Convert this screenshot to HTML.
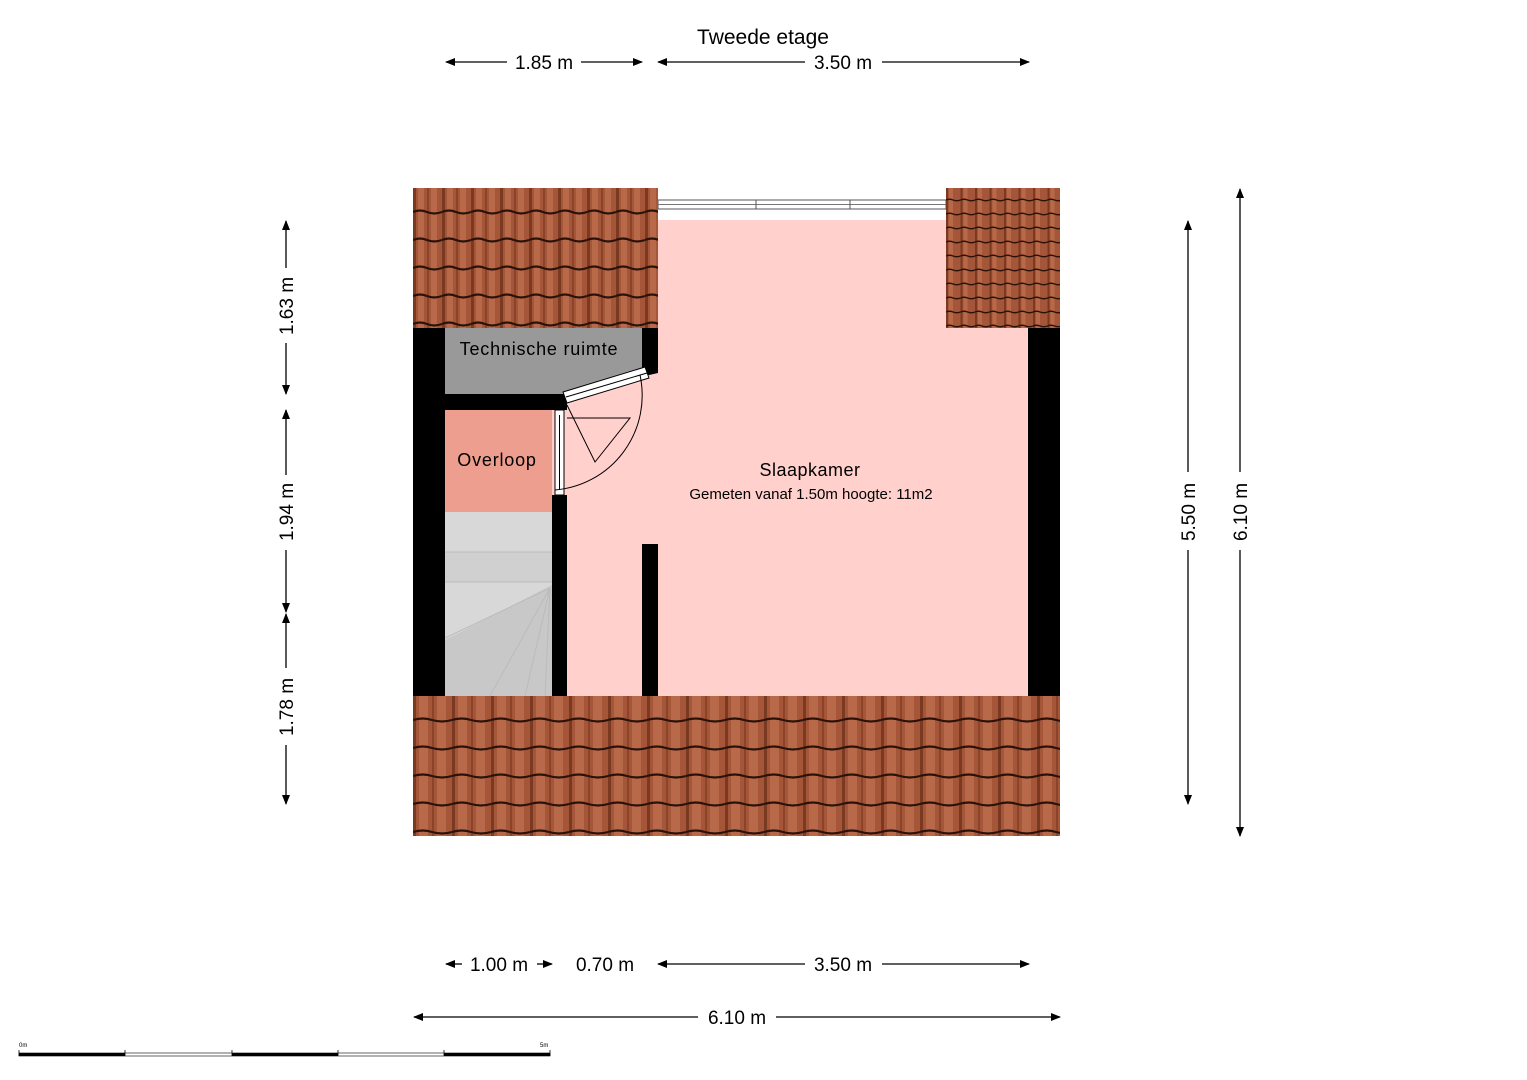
<!DOCTYPE html>
<html><head><meta charset="utf-8"><style>
body{margin:0;background:#fff;width:1527px;height:1080px;overflow:hidden}
svg{display:block;font-family:"Liberation Sans",sans-serif}
</style></head><body>
<svg width="1527" height="1080" viewBox="0 0 1527 1080" xmlns="http://www.w3.org/2000/svg">
<defs>
<pattern id="tile" x="413" y="188" width="29" height="28" patternUnits="userSpaceOnUse">
<rect width="29" height="28" fill="#a65638"/>
<rect x="0" width="3" height="28" fill="#7a3a22"/>
<rect x="14" width="2" height="28" fill="#8a4429"/>
<rect x="5" width="6" height="28" fill="#b8694a"/>
<rect x="18" width="6" height="28" fill="#b8694a"/>
<path d="M0 24 Q7 21 14 24 Q21 27 29 24" stroke="#2a120a" stroke-width="2.2" fill="none"/>
</pattern>
<pattern id="tileB" x="413" y="696" width="39" height="28" patternUnits="userSpaceOnUse">
<rect width="39" height="28" fill="#a65638"/>
<rect x="0" width="3" height="28" fill="#7a3a22"/>
<rect x="19" width="2" height="28" fill="#8a4429"/>
<rect x="6" width="9" height="28" fill="#b8694a"/>
<rect x="24" width="9" height="28" fill="#b8694a"/>
<path d="M0 24 Q10 21 19 24 Q29 27 39 24" stroke="#2a120a" stroke-width="2.2" fill="none"/>
</pattern>
<pattern id="tileR" x="946" y="188" width="14.5" height="14" patternUnits="userSpaceOnUse">
<rect width="14.5" height="14" fill="#a65638"/>
<rect x="0" width="2" height="14" fill="#7a3a22"/>
<rect x="3" width="4" height="14" fill="#b8694a"/>
<path d="M0 12 Q4 10.5 7 12 Q11 13.5 14.5 12" stroke="#2a120a" stroke-width="1.4" fill="none"/>
</pattern>
<marker id="ar" markerWidth="10" markerHeight="8" refX="9" refY="4" orient="auto-start-reverse" markerUnits="userSpaceOnUse"><path d="M0 0 L10 4 L0 8 Z" fill="#000"/></marker>
</defs>

<rect x="413" y="188" width="647" height="648" fill="#ffd0cc"/>
<rect x="658" y="188" width="288" height="32" fill="#fff"/>
<rect x="658" y="200" width="288" height="9" fill="#fff" stroke="#555" stroke-width="1"/>
<line x1="658" y1="204.5" x2="946" y2="204.5" stroke="#777" stroke-width="1"/>
<line x1="756" y1="200" x2="756" y2="209" stroke="#555"/><line x1="850" y1="200" x2="850" y2="209" stroke="#555"/>
<rect x="413" y="188" width="245" height="140" fill="url(#tile)"/>
<rect x="946" y="188" width="114" height="140" fill="url(#tileR)"/>
<rect x="413" y="696" width="647" height="140" fill="url(#tileB)"/>
<polygon points="445,328 642,328 642,372 563,395 445,395" fill="#999"/>
<rect x="445" y="410" width="107" height="102" fill="#ee9e8e"/>
<rect x="445" y="512" width="107" height="184" fill="#d8d8d8"/>
<rect x="445" y="552" width="107" height="30" fill="#d0d0d0"/>
<polygon points="552,585 445,640 445,696 552,696" fill="#c8c8c8"/>
<g stroke="#bbb" stroke-width="1">
<line x1="445" y1="552" x2="552" y2="552"/><line x1="445" y1="582" x2="552" y2="582"/>
<line x1="550" y1="588" x2="445" y2="638"/><line x1="550" y1="588" x2="490" y2="696"/>
<line x1="550" y1="588" x2="525" y2="696"/><line x1="550" y1="588" x2="545" y2="696"/></g>
<rect x="413" y="328" width="32" height="368" fill="#000"/>
<rect x="1028" y="328" width="32" height="368" fill="#000"/>
<rect x="445" y="394" width="122" height="16" fill="#000"/>
<polygon points="642,328 658,328 658,373 645,376 642,376" fill="#000"/>
<rect x="552" y="495" width="15" height="201" fill="#000"/>
<rect x="642" y="544" width="16" height="152" fill="#000"/>
<rect x="555" y="410" width="9" height="85" fill="#fff" stroke="#000" stroke-width="1"/>
<line x1="559.5" y1="415" x2="559.5" y2="490" stroke="#000"/>
<polygon points="563,392 645,367 649,378 567,403" fill="#fff" stroke="#000" stroke-width="1"/>
<line x1="566" y1="397" x2="647" y2="373" stroke="#000"/>
<path d="M640 375 A95 95 0 0 1 555 490" stroke="#000" fill="none" stroke-width="1"/>
<polyline points="567,418 630,418 595,462 567,405" stroke="#000" fill="none" stroke-width="1"/>
<g font-size="18" fill="#000">
<text x="539" y="355" text-anchor="middle" letter-spacing="0.8">Technische ruimte</text>
<text x="497" y="466" text-anchor="middle" letter-spacing="0.8">Overloop</text>
<text x="810" y="476" text-anchor="middle" letter-spacing="0.5">Slaapkamer</text>
<text x="811" y="499" text-anchor="middle" font-size="15">Gemeten vanaf 1.50m hoogte: 11m2</text>
<text x="763" y="44" text-anchor="middle" font-size="21">Tweede etage</text>
</g>
<g stroke="#000" stroke-width="1.3" fill="none">
<line x1="446" y1="62" x2="507" y2="62" marker-start="url(#ar)"/><line x1="581" y1="62" x2="642" y2="62" marker-end="url(#ar)"/>
<line x1="658" y1="62" x2="805" y2="62" marker-start="url(#ar)"/><line x1="882" y1="62" x2="1029" y2="62" marker-end="url(#ar)"/>
<line x1="446" y1="964" x2="462" y2="964" marker-start="url(#ar)"/><line x1="537" y1="964" x2="552" y2="964" marker-end="url(#ar)"/>
<line x1="658" y1="964" x2="805" y2="964" marker-start="url(#ar)"/><line x1="882" y1="964" x2="1029" y2="964" marker-end="url(#ar)"/>
<line x1="414" y1="1017" x2="698" y2="1017" marker-start="url(#ar)"/><line x1="776" y1="1017" x2="1060" y2="1017" marker-end="url(#ar)"/>
<line x1="286" y1="221" x2="286" y2="268" marker-start="url(#ar)"/><line x1="286" y1="343" x2="286" y2="394" marker-end="url(#ar)"/>
<line x1="286" y1="410" x2="286" y2="475" marker-start="url(#ar)"/><line x1="286" y1="550" x2="286" y2="612" marker-end="url(#ar)"/>
<line x1="286" y1="614" x2="286" y2="668" marker-start="url(#ar)"/><line x1="286" y1="745" x2="286" y2="804" marker-end="url(#ar)"/>
<line x1="1188" y1="221" x2="1188" y2="472" marker-start="url(#ar)"/><line x1="1188" y1="550" x2="1188" y2="804" marker-end="url(#ar)"/>
<line x1="1240" y1="189" x2="1240" y2="472" marker-start="url(#ar)"/><line x1="1240" y1="550" x2="1240" y2="836" marker-end="url(#ar)"/>
</g>
<g font-size="19" fill="#000" text-anchor="middle">
<text x="544" y="69">1.85 m</text><text x="843" y="69">3.50 m</text>
<text x="499" y="971">1.00 m</text><text x="605" y="971">0.70 m</text><text x="843" y="971">3.50 m</text>
<text x="737" y="1024">6.10 m</text>
<text transform="translate(293,306) rotate(-90)">1.63 m</text>
<text transform="translate(293,512) rotate(-90)">1.94 m</text>
<text transform="translate(293,707) rotate(-90)">1.78 m</text>
<text transform="translate(1195,512) rotate(-90)">5.50 m</text>
<text transform="translate(1247,512) rotate(-90)">6.10 m</text>
</g>
<rect x="19" y="1053" width="531" height="3" fill="#fff" stroke="#000" stroke-width="0.6"/>
<rect x="19" y="1053" width="106" height="3" fill="#000"/>
<rect x="232" y="1053" width="106" height="3" fill="#000"/>
<rect x="444" y="1053" width="106" height="3" fill="#000"/>
<g stroke="#000" stroke-width="0.8"><line x1="19" y1="1050" x2="19" y2="1056"/><line x1="125" y1="1050" x2="125" y2="1056"/><line x1="232" y1="1050" x2="232" y2="1056"/><line x1="338" y1="1050" x2="338" y2="1056"/><line x1="444" y1="1050" x2="444" y2="1056"/><line x1="550" y1="1050" x2="550" y2="1056"/></g>
<text x="19" y="1047" font-size="6">0m</text><text x="540" y="1047" font-size="6">5m</text>
</svg>
</body></html>
